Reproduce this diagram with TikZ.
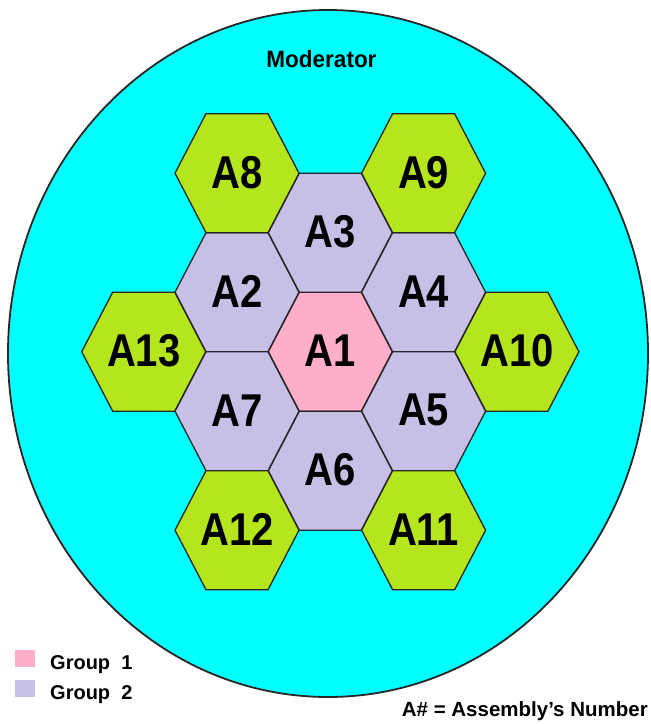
\documentclass[tikz,border=0pt]{standalone}
\usepackage{fontspec}
\usepackage{graphicx}
\setmainfont{Liberation Sans}
\definecolor{modcyan}{HTML}{00FFFF}
\definecolor{grpone}{HTML}{FFAEC9}
\definecolor{grptwo}{HTML}{C8BFE7}
\definecolor{outer}{HTML}{B5E61D}
\tikzset{
  hexfill/.style={fill=#1, draw=black!85, line width=1.3pt, line join=miter},
  hexlabel/.style={inner sep=0pt, font=\bfseries\fontsize{40}{40}\selectfont},
  smalltext/.style={inner sep=0pt, font=\bfseries\fontsize{20}{20}\selectfont},
  legbox/.style={fill=#1, draw=none}
}
\begin{document}
\begin{tikzpicture}[x=1pt,y=-1pt]
\useasboundingbox (0,0) rectangle (651,724);
% moderator
\draw[fill=modcyan, draw=black!85, line width=1.8pt] (328,353.5) ellipse [x radius=320, y radius=343.5];
\node[inner sep=0pt, font=\bfseries\fontsize{22.5}{22.5}\selectfont] (mod) at (321.5,59.5) {\scalebox{1}[1.05]{Moderator}};
% hexagons
\foreach \nm/\c/\r/\col in {A1/0/0/grpone, A2/-1/-1/grptwo, A3/0/-2/grptwo, A4/1/-1/grptwo, A5/1/1/grptwo, A6/0/2/grptwo, A7/-1/1/grptwo, A8/-1/-3/outer, A9/1/-3/outer, A10/2/0/outer, A11/1/3/outer, A12/-1/3/outer, A13/-2/0/outer}{
  \begin{scope}[shift={(330.3+\c*93.3, 351.7+\r*59.5)}]
    \draw[hexfill=\col] (62,0) -- (31,59.5) -- (-31,59.5) -- (-62,0) -- (-31,-59.5) -- (31,-59.5) -- cycle;
    \node[hexlabel] (\nm) at (0,-1) {\scalebox{1}[1.15]{\nm}};
  \end{scope}
}
% legend
\node[legbox=grpone, minimum width=20pt, minimum height=17pt, inner sep=0pt] (l1) at (25,658.5) {};
\node[legbox=grptwo, minimum width=20pt, minimum height=17pt, inner sep=0pt] (l2) at (25,688.5) {};
\node[smalltext, anchor=base west] (g1) at (50,669) {Group\ \ 1};
\node[smalltext, anchor=base west] (g2) at (50,699) {Group\ \ 2};
\node[smalltext, anchor=base east, font=\bfseries\fontsize{20.5}{20.5}\selectfont] (key) at (648,716) {A\# = Assembly's Number};
\end{tikzpicture}
\end{document}
